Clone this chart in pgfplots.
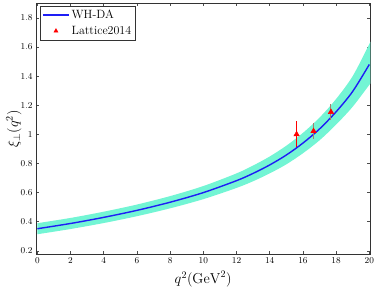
\documentclass[border=0pt]{standalone}
\usepackage{pgfplots}
\pgfplotsset{compat=1.18}
\usepgfplotslibrary{fillbetween}
\definecolor{bandcol}{RGB}{115,245,212}
\definecolor{curvecol}{RGB}{30,30,245}
\definecolor{ebgray}{RGB}{165,125,110}
\begin{document}
\begin{tikzpicture}
\begin{axis}[
  name=ax,
  scale only axis,
  width=334.3pt, height=251.2pt,
  xmin=-0.08, xmax=20.06,
  ymin=0.175, ymax=1.9,
  xtick={0,2,...,20},
  ytick={0.2,0.4,...,1.8},
  tick align=inside,
  major tick length=3pt,
  tick style={black!70, line width=0.5pt},
  axis line style={black!80, line width=0.7pt},
  tick label style={font=\fontsize{9.5}{11}\selectfont},
  yticklabel style={/pgf/number format/fixed},
  xlabel={$q^2(\mathrm{GeV}^2)$},
  ylabel={$\xi_{\perp}(q^2)$},
  label style={font=\fontsize{14}{16}\selectfont},
  ylabel style={at={(axis description cs:-0.066,0.5)}, anchor=center},
  xlabel style={at={(axis description cs:0.5,-0.098)}, anchor=center},
  legend style={at={(axis description cs:0.012,0.99)}, anchor=north west,
    draw=black!80, line width=0.5pt, font=\fontsize{12}{14}\selectfont,
    row sep=2pt, inner sep=2pt},
  legend cell align=left,
  legend image code/.code={\draw[mark repeat=2,mark phase=2,#1] plot coordinates {(0pt,0pt) (13pt,0pt) (26pt,0pt)};},
]
\addplot[name path=U, draw=none, smooth, forget plot] coordinates {
(0,0.390) (2,0.426) (4,0.469) (6,0.518) (8,0.576) (10,0.645) (12,0.732) (13,0.786) (14,0.848) (15,0.922) (16,1.010) (17,1.115) (18,1.243) (19,1.400) (20,1.620) (20.2,1.67)};
\addplot[name path=L, draw=none, smooth, forget plot] coordinates {
(0,0.314) (2,0.350) (4,0.391) (6,0.438) (8,0.492) (10,0.555) (12,0.632) (13,0.678) (14,0.732) (15,0.794) (16,0.870) (17,0.959) (18,1.067) (19,1.190) (20,1.340) (20.2,1.37)};
\addplot[bandcol, draw=none, forget plot] fill between[of=U and L];
\addplot[curvecol, line width=1.4pt, smooth] coordinates {
(0,0.352) (2,0.388) (4,0.430) (6,0.478) (8,0.534) (10,0.600) (12,0.682) (13,0.732) (14,0.790) (15,0.858) (16,0.940) (17,1.037) (18,1.155) (19,1.295) (20,1.480)};
\addlegendentry{WH-DA}
\addplot[red, only marks, mark=triangle*, mark size=3.2pt,
  legend image post style={mark size=2.3pt},
  error bars/.cd, y dir=both, y explicit, error bar style={red, line width=0.8pt}, error mark=none]
  coordinates {(15.62,1.0) +- (0,0.09)};
\addlegendentry{Lattice2014}
\addplot[red, only marks, mark=triangle*, mark size=3.2pt, forget plot,
  error bars/.cd, y dir=both, y explicit, error bar style={ebgray, line width=1pt}, error mark=none]
  coordinates {(16.64,1.022) +- (0,0.055) (17.69,1.153) +- (0,0.053)};
\end{axis}
\pgfresetboundingbox
\path ([shift={(-36pt,-33.5pt)}]ax.south west) rectangle ([shift={(3.7pt,3.3pt)}]ax.north east);
\end{tikzpicture}
\end{document}
